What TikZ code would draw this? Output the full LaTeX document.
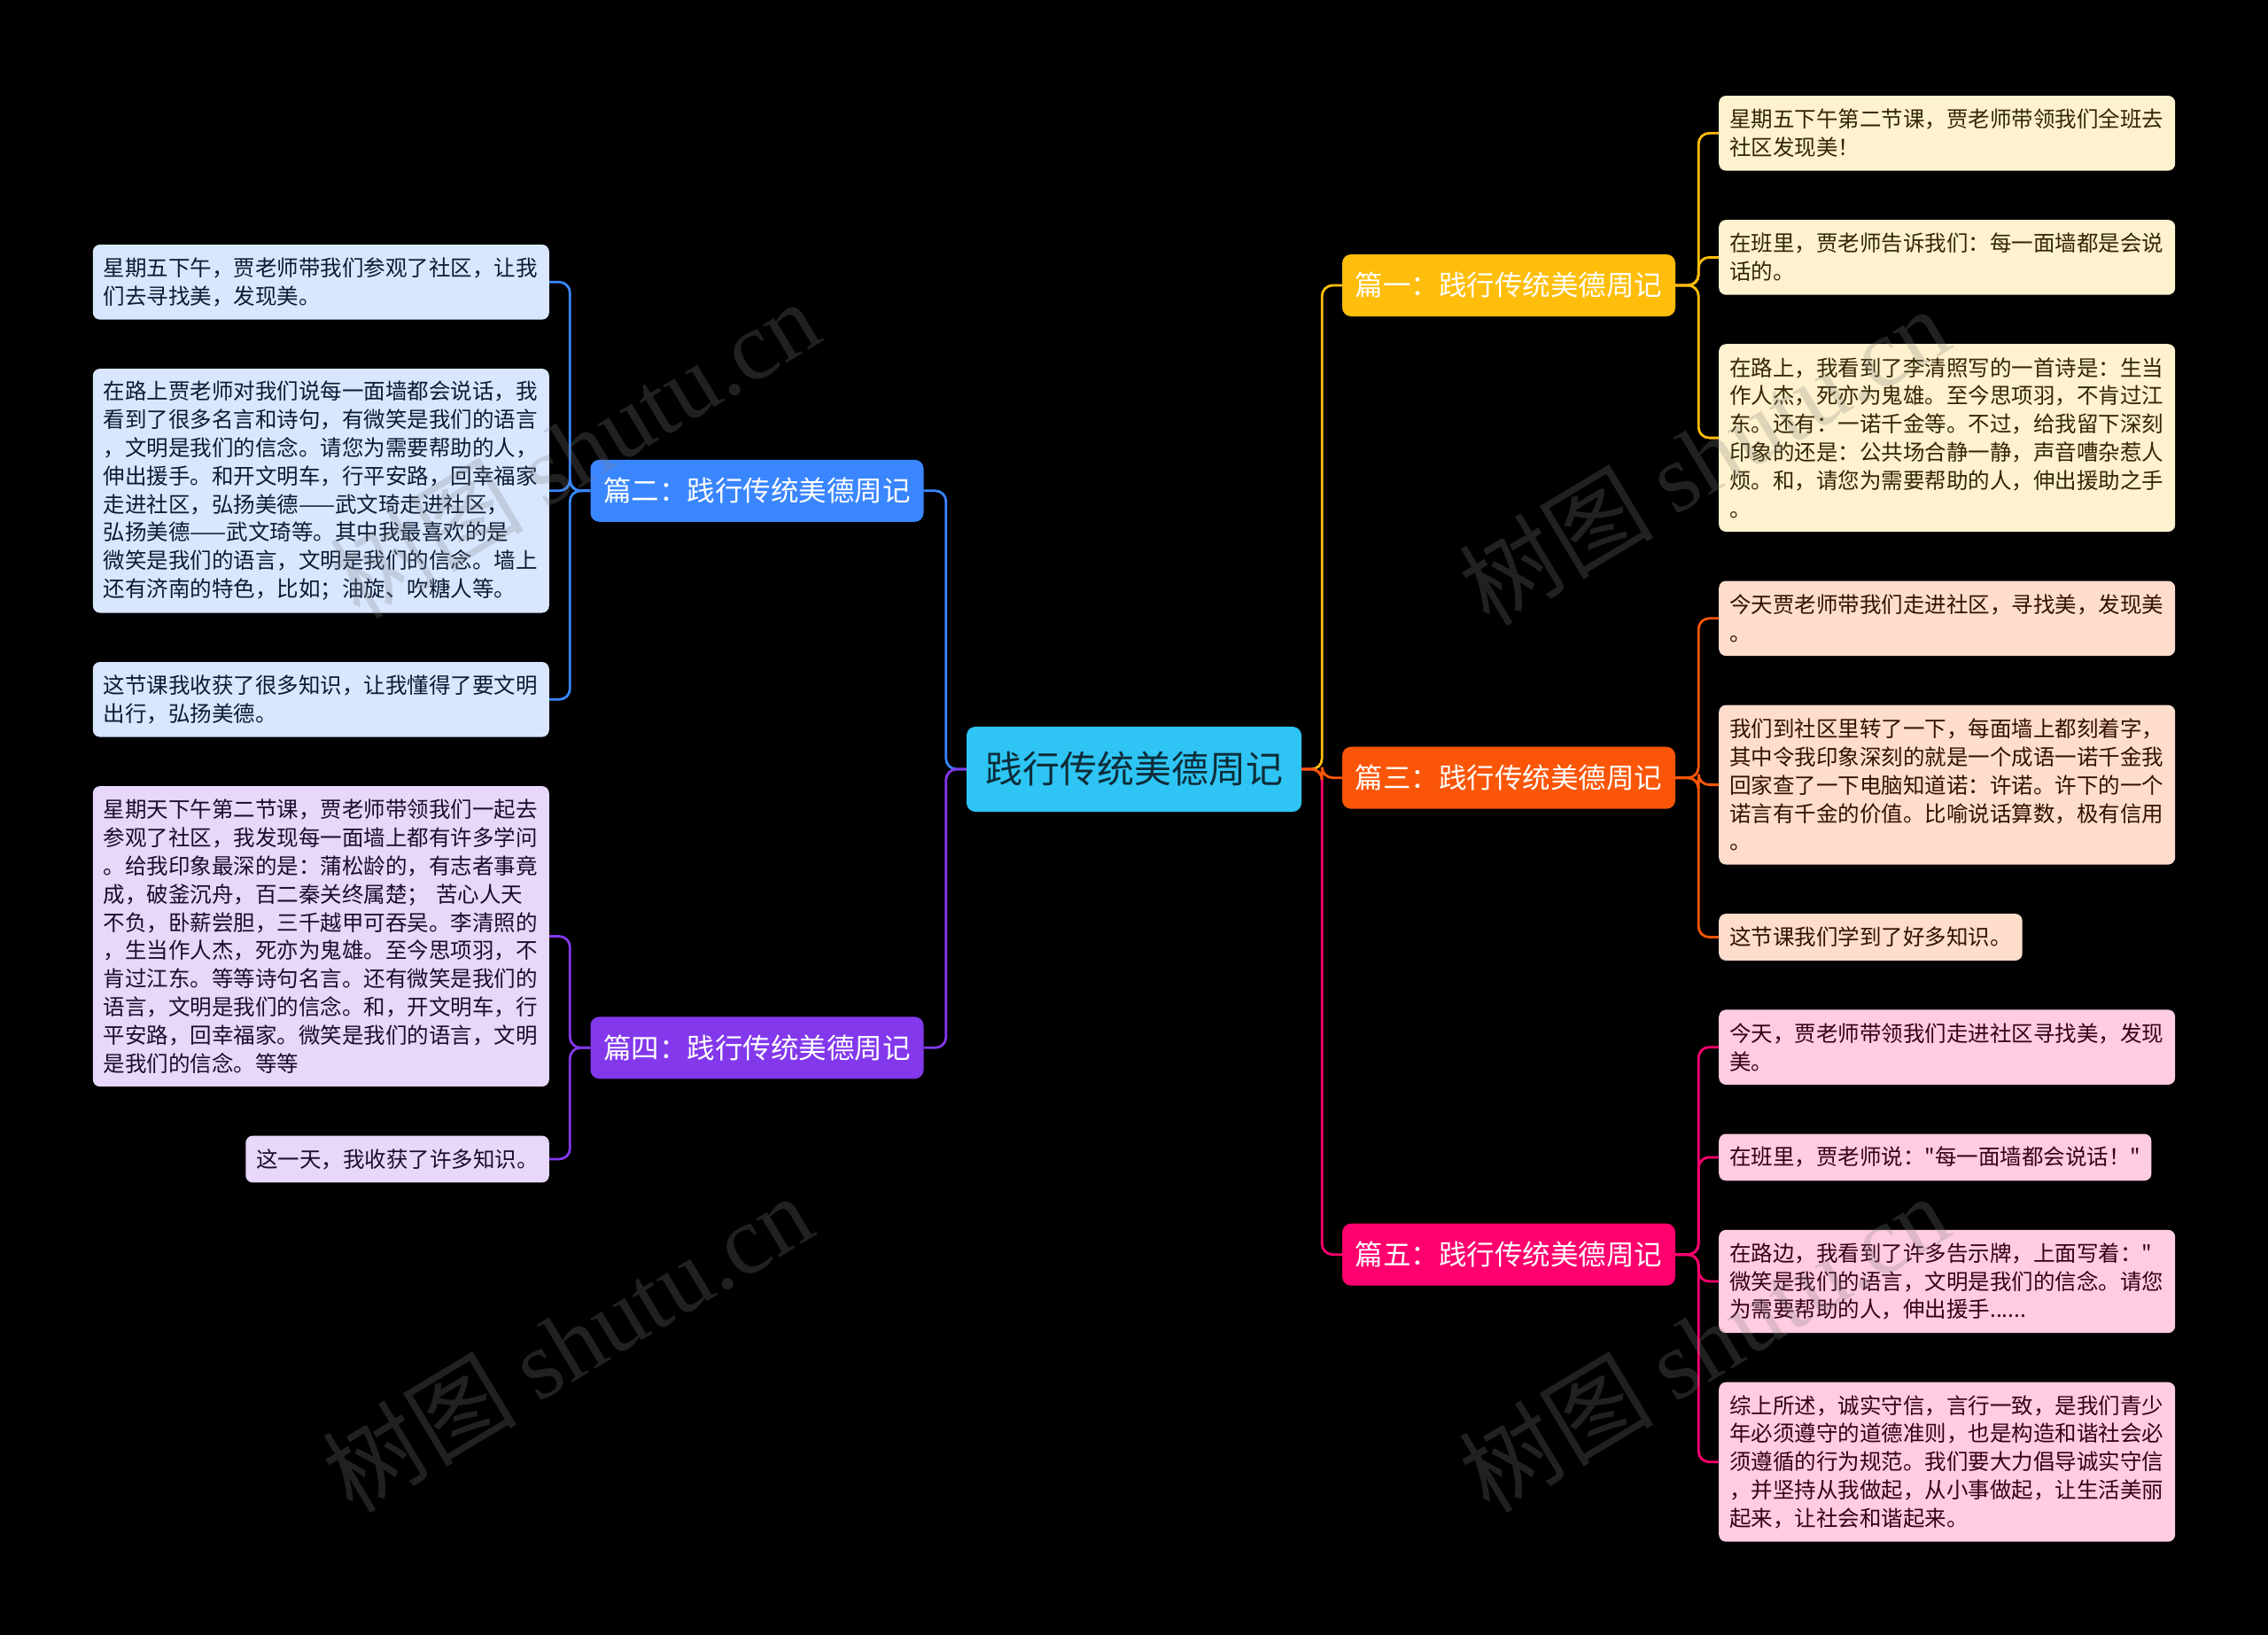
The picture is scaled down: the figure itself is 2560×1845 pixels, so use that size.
\documentclass[tikz,border=0pt]{standalone}
\usepackage{fontspec}
\setmainfont{Noto Sans CJK SC}[Ligatures=TeXOff]
\newfontfamily\wmlatin{Liberation Serif}
\definecolor{cY}{HTML}{FFBE0B}
\definecolor{cO}{HTML}{FB5607}
\definecolor{cP}{HTML}{FF006E}
\definecolor{cV}{HTML}{8338EC}
\definecolor{cB}{HTML}{3A86FF}
\definecolor{cC}{HTML}{2EC5F5}
\definecolor{cYl}{HTML}{FFF2CE}
\definecolor{cOl}{HTML}{FEDDCD}
\definecolor{cPl}{HTML}{FFCCE2}
\definecolor{cVl}{HTML}{E6D7FB}
\definecolor{cBl}{HTML}{D8E7FF}
\definecolor{cYd}{HTML}{332602}
\definecolor{cOd}{HTML}{321101}
\definecolor{cPd}{HTML}{330016}
\definecolor{cVd}{HTML}{1A0B2F}
\definecolor{cBd}{HTML}{0C1B33}
\definecolor{cCd}{HTML}{0E2C38}
\tikzset{
  leaf/.style={rounded corners=8pt, inner xsep=12pt, inner ysep=3pt, font=\fontsize{24.5}{31.8}\selectfont, align=left},
  wide/.style={text width=491pt},
  hA/.style={minimum height=52.8pt},
  hB/.style={minimum height=84.6pt},
  hC/.style={minimum height=116.4pt},
  hE/.style={minimum height=180pt},
  hF/.style={minimum height=211.8pt},
  hH/.style={minimum height=275.4pt},
  hJ/.style={minimum height=339pt},
  rl/.style={anchor=west},
  ll/.style={anchor=east},
  mainbox/.style={rounded corners=10pt, minimum width=376pt, minimum height=70pt, inner sep=0pt, text=white, font=\fontsize{31.5}{36}\selectfont},
  conn/.style={line width=2.8pt, rounded corners=12pt},
  wm/.style={rotate=31, text=gray, opacity=0.26, font=\fontsize{110}{120}\selectfont}
}
\begin{document}
\begin{tikzpicture}[x=1pt, y=-1pt]
\fill[black] (0,0) rectangle (2560,1845);
\useasboundingbox (0,0) rectangle (2560,1845);

% root and main branches
\node[mainbox, fill=cC, minimum width=378pt, minimum height=96pt, text=cCd, font=\fontsize{42}{48}\selectfont] (root) at (1280,868) {践行传统美德周记};
\node[mainbox, fill=cY] (b1) at (1703,322) {篇一：践行传统美德周记};
\node[mainbox, fill=cO] (b3) at (1703,877.7) {篇三：践行传统美德周记};
\node[mainbox, fill=cP] (b5) at (1703,1415.7) {篇五：践行传统美德周记};
\node[mainbox, fill=cB] (b2) at (854.5,553.8) {篇二：践行传统美德周记};
\node[mainbox, fill=cV] (b4) at (854.5,1182.3) {篇四：践行传统美德周记};

% right leaves
\node[leaf, wide, hB, rl, fill=cYl, text=cYd] (r1a) at (1940,150.3) {星期五下午第二节课，贾老师带领我们全班去\\社区发现美！};
\node[leaf, wide, hB, rl, fill=cYl, text=cYd] (r1b) at (1940,290.4) {在班里，贾老师告诉我们：每一面墙都是会说\\话的。};
\node[leaf, wide, hF, rl, fill=cYl, text=cYd] (r1c) at (1940,494.1) {在路上，我看到了李清照写的一首诗是：生当\\作人杰，死亦为鬼雄。至今思项羽，不肯过江\\东。还有：一诺千金等。不过，给我留下深刻\\印象的还是：公共场合静一静，声音嘈杂惹人\\烦。和，请您为需要帮助的人，伸出援助之手\\。};

\node[leaf, wide, hB, rl, fill=cOl, text=cOd] (r3a) at (1940,697.8) {今天贾老师带我们走进社区，寻找美，发现美\\。};
\node[leaf, wide, hE, rl, fill=cOl, text=cOd] (r3b) at (1940,885.6) {我们到社区里转了一下，每面墙上都刻着字，\\其中令我印象深刻的就是一个成语一诺千金我\\回家查了一下电脑知道诺：许诺。许下的一个\\诺言有千金的价值。比喻说话算数，极有信用\\。};
\node[leaf, hA, rl, fill=cOl, text=cOd] (r3c) at (1940,1057.5) {这节课我们学到了好多知识。};

\node[leaf, wide, hB, rl, fill=cPl, text=cPd] (r5a) at (1940,1181.7) {今天，贾老师带领我们走进社区寻找美，发现\\美。};
\node[leaf, hA, rl, fill=cPl, text=cPd] (r5b) at (1940,1305.9) {在班里，贾老师说："每一面墙都会说话！"};
\node[leaf, wide, hC, rl, fill=cPl, text=cPd] (r5c) at (1940,1446) {在路边，我看到了许多告示牌，上面写着："\\微笑是我们的语言，文明是我们的信念。请您\\为需要帮助的人，伸出援手......};
\node[leaf, wide, hE, rl, fill=cPl, text=cPd] (r5d) at (1940,1649.7) {综上所述，诚实守信，言行一致，是我们青少\\年必须遵守的道德准则，也是构造和谐社会必\\须遵循的行为规范。我们要大力倡导诚实守信\\，并坚持从我做起，从小事做起，让生活美丽\\起来，让社会和谐起来。};

% left leaves
\node[leaf, wide, hB, ll, fill=cBl, text=cBd] (l2a) at (620,318.3) {星期五下午，贾老师带我们参观了社区，让我\\们去寻找美，发现美。};
\node[leaf, wide, hH, ll, fill=cBl, text=cBd] (l2b) at (620,553.8) {在路上贾老师对我们说每一面墙都会说话，我\\看到了很多名言和诗句，有微笑是我们的语言\\，文明是我们的信念。请您为需要帮助的人，\\伸出援手。和开文明车，行平安路，回幸福家\\走进社区，弘扬美德——武文琦走进社区，\\弘扬美德——武文琦等。其中我最喜欢的是\\微笑是我们的语言，文明是我们的信念。墙上\\还有济南的特色，比如；油旋、吹糖人等。};
\node[leaf, wide, hB, ll, fill=cBl, text=cBd] (l2c) at (620,789.3) {这节课我收获了很多知识，让我懂得了要文明\\出行，弘扬美德。};

\node[leaf, wide, hJ, ll, fill=cVl, text=cVd] (l4a) at (620,1056.6) {星期天下午第二节课，贾老师带领我们一起去\\参观了社区，我发现每一面墙上都有许多学问\\。给我印象最深的是：蒲松龄的，有志者事竟\\成，破釜沉舟，百二秦关终属楚； 苦心人天\\不负，卧薪尝胆，三千越甲可吞吴。李清照的\\，生当作人杰，死亦为鬼雄。至今思项羽，不\\肯过江东。等等诗句名言。还有微笑是我们的\\语言，文明是我们的信念。和，开文明车，行\\平安路，回幸福家。微笑是我们的语言，文明\\是我们的信念。等等};
\node[leaf, hA, ll, fill=cVl, text=cVd] (l4b) at (620,1308) {这一天，我收获了许多知识。};

% connectors root -> branches
\draw[conn, cY] (root.east) -- ++(23,0) |- (b1.west);
\draw[conn, cP] (root.east) -- ++(23,0) |- (b5.west);
\draw[conn, cO] (root.east) -- ++(23,0) |- (b3.west);
\draw[conn, cB] (root.west) -- ++(-23,0) |- (b2.east);
\draw[conn, cV] (root.west) -- ++(-23,0) |- (b4.east);

% connectors branches -> leaves
\foreach \t in {r1a,r1b,r1c} \draw[conn, cY] (b1.east) -- ++(26,0) |- (\t.west);
\foreach \t in {r3a,r3b,r3c} \draw[conn, cO] (b3.east) -- ++(26,0) |- (\t.west);
\foreach \t in {r5a,r5b,r5c,r5d} \draw[conn, cP] (b5.east) -- ++(26,0) |- (\t.west);
\foreach \t in {l2a,l2b,l2c} \draw[conn, cB] (b2.west) -- ++(-23,0) |- (\t.east);
\foreach \t in {l4a,l4b} \draw[conn, cV] (b4.west) -- ++(-23,0) |- (\t.east);

% watermarks
\node[wm] (wm1) at (648,506) {树图 {\wmlatin shutu.cn}};
\node[wm] (wm2) at (640,1515) {树图 {\wmlatin shutu.cn}};
\node[wm] (wm3) at (1923,514) {树图 {\wmlatin shutu.cn}};
\node[wm] (wm4) at (1923,1515) {树图 {\wmlatin shutu.cn}};
\end{tikzpicture}
\end{document}
